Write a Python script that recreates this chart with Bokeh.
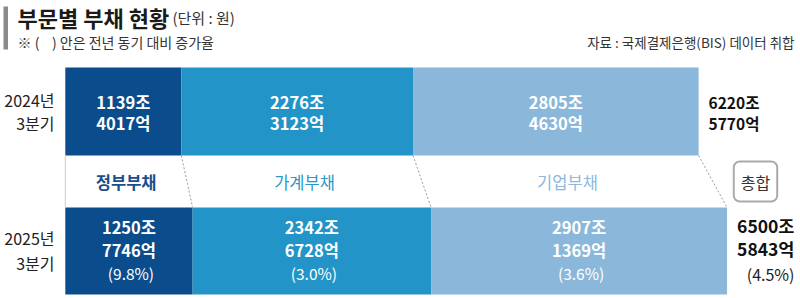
from bokeh.plotting import figure
from bokeh.models import Range1d, ColumnDataSource, Label
from bokeh.core.properties import value
from bokeh.embed import file_html
from bokeh.resources import INLINE

# ---- data (values in 억 원) ----
periods = ["2024년\n3분기", "2025년\n3분기"]
sectors = ["정부부채", "가계부채", "기업부채"]
gov = [11394017, 12507746]
household = [22763123, 23426728]
corporate = [28054630, 29071369]
totals = [62205770, 65005843]
growth = ["9.8%", "3.0%", "3.6%"]
total_growth = "4.5%"

FONT = value("Noto Sans CJK KR")
colors = ["#0b4d8c", "#2394c7", "#8bb8da"]
band_colors = ["#1b4f8c", "#2a97c9", "#8cb9dc"]

W, H = 800, 298
K = 0.1018   # px per 조
X0 = 64.8    # px where 0 sits
NB = "\u00a0"


def px(v):
    return (v - X0) / K


p = figure(width=W, height=H, output_backend="svg", toolbar_location=None,
           x_range=Range1d(px(0), px(W)), y_range=Range1d(H, 0),
           min_border=0, outline_line_color=None)
p.axis.visible = False
p.grid.visible = False
p.background_fill_color = "white"

rows = [(67, 155), (207, 294)]
series = [gov, household, corporate]

# bars
for r, (top, bot) in enumerate(rows):
    cum = 0.0
    for s, vals in enumerate(series):
        v = vals[r] / 10000
        p.quad(left=cum, right=cum + v, top=top, bottom=bot,
               fill_color=colors[s], line_color=None)
        cum += v

# connector lines
bounds = []
for r in range(2):
    b = []
    cum = 0.0
    for vals in series:
        cum += vals[r] / 10000
        b.append(cum)
    bounds.append(b)
p.segment(x0=bounds[0], y0=[rows[0][1]] * 3, x1=bounds[1], y1=[rows[1][0]] * 3,
          line_color="#9a9a9a", line_dash="2 2", line_width=1)
p.segment(x0=[0], y0=[rows[0][1]], x1=[0], y1=[rows[1][0]],
          line_color="#cccccc", line_width=1)


def txt(x, y, t, size, color, bold=False, align="center"):
    p.text(x=[x], y=[y], text=[t], text_font=FONT, text_font_size=f"{size}px",
           text_color=color, text_align=align, text_baseline="middle",
           text_font_style="bold" if bold else "normal")


# texts inside bars
for r in range(2):
    cum = 0.0
    for s, vals in enumerate(series):
        v = vals[r]
        c = cum + v / 20000
        cum += v / 10000
        if r == 0:
            txt(c, 101, f"{v // 10000}조", 16.5, "white", True)
            txt(c, 122, f"{v % 10000}억", 16.5, "white", True)
        else:
            txt(c, 226, f"{v // 10000}조", 16.5, "white", True)
            txt(c, 249, f"{v % 10000}억", 16.5, "white", True)
            txt(c + 2 / K, 272, f"({growth[s]})", 15.5, "white", False)

# sector labels in the middle band
for s in range(3):
    starts = []
    for r in range(2):
        pre = sum(series[i][r] for i in range(s)) / 10000
        starts.append(pre + series[s][r] / 20000)
    c = sum(starts) / 2
    txt(c, 181, sectors[s], 16.5, band_colors[s], bold=(s == 0))

# period labels
yl = [(99, 122), (237, 262)]
for r, lab in enumerate(periods):
    l1, l2 = lab.split("\n")
    txt(px(54), yl[r][0], l1, 16, "#222222", align="right")
    txt(px(54), yl[r][1], l2, 16, "#222222", align="right")

# totals
t0 = totals[0]
txt(totals[0] / 10000 + 10 / K, 101, f"{t0 // 10000}조", 15.5, "#111111", True, "left")
txt(totals[0] / 10000 + 10 / K, 122, f"{t0 % 10000}억", 15.5, "#111111", True, "left")
t1 = totals[1]
txt(totals[1] / 10000 + 10 / K, 225, f"{t1 // 10000}조", 17.5, "#111111", True, "left")
txt(totals[1] / 10000 + 10 / K, 248, f"{t1 % 10000}억", 17.5, "#111111", True, "left")
txt(px(794), 273, f"({total_growth})", 16, "#222222", False, "right")

# 총합 box
p.add_layout(Label(x=px(755), y=181, text="총합", text_font="Noto Sans CJK KR",
                   text_font_size="16px", text_color="#333333",
                   text_align="center", text_baseline="middle",
                   border_line_color="#aaaaaa", border_line_width=2,
                   border_radius=6, padding=(7, 8),
                   background_fill_color="white"))

# title block
p.quad(left=[px(3)], right=[px(7.5)], top=[6], bottom=[49], fill_color="#8a8a8a", line_color=None)
txt(px(17), 16, "부문별 부채 현황", 22, "#1a1a1a", True, "left")
txt(px(172), 17, "(단위 : 원)", 15, "#333333", False, "left")
txt(px(17), 41, f"※ ({NB}{NB}{NB}{NB}) 안은 전년 동기 대비 증가율", 14, "#333333", False, "left")
txt(px(794), 41, "자료 : 국제결제은행(BIS) 데이터 취합", 13.5, "#333333", False, "right")

open("out.html", "w").write(file_html(p, INLINE))
